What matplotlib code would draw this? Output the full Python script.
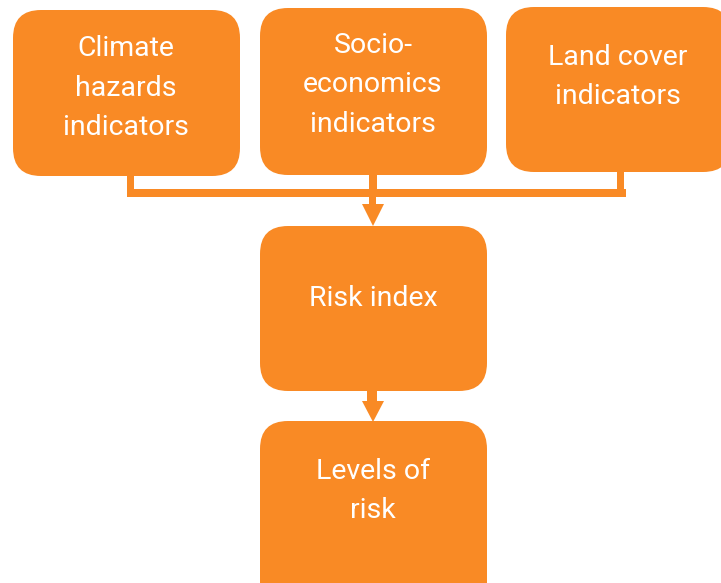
import matplotlib.pyplot as plt
from matplotlib.patches import FancyBboxPatch, Rectangle, Polygon

# ==========================================
# Diagram content
# ==========================================
labels = ["Climate\nhazards\nindicators",
          "Socio-\neconomics\nindicators",
          "Land cover\nindicators",
          "Risk index",
          "Levels of\nrisk"]

# box layout in pixels: left, top, right, bottom
box_left = [13, 260, 506, 260, 260]
box_top = [10, 8, 7, 226, 421]
box_right = [240, 487, 731, 487, 487]
box_bottom = [176, 175, 172, 391, 610]
text_y = [88, 85, 77, 298, 491]
text_x = [126, 373, 618, 373, 373]

ORANGE = "#F98A25"
W, H = 721, 583

fig = plt.figure(figsize=(W / 100, H / 100), dpi=100)
ax = fig.add_axes([0, 0, 1, 1])
ax.set_xlim(0, W)
ax.set_ylim(H, 0)
ax.axis("off")

for lab, l, t, r, b, tx, ty in zip(labels, box_left, box_top, box_right, box_bottom, text_x, text_y):
    ax.add_patch(FancyBboxPatch((l, t), r - l, b - t,
                                boxstyle="round,pad=0,rounding_size=28",
                                facecolor=ORANGE, edgecolor="none"))
    ax.text(tx, ty, lab, color="white", fontsize=20.5, family="Roboto",
            ha="center", va="center", linespacing=1.58)

# ----------------------------------------
# connectors
# ----------------------------------------
def bar(x0, x1, y0, y1):
    ax.add_patch(Rectangle((x0, y0), x1 - x0, y1 - y0, facecolor=ORANGE, edgecolor="none"))

bar(127, 134, 176, 197)
bar(369, 377, 175, 190)
bar(617, 624, 172, 197)
bar(127, 626, 189, 197)
bar(369, 376, 197, 205)
ax.add_patch(Polygon([(362, 204), (384, 204), (373, 226)], closed=True,
                     facecolor=ORANGE, edgecolor="none"))

bar(367, 377, 390, 402)
ax.add_patch(Polygon([(362, 401), (384, 401), (373, 422)], closed=True,
                     facecolor=ORANGE, edgecolor="none"))

fig.savefig("out.png", dpi=100, facecolor="white")
